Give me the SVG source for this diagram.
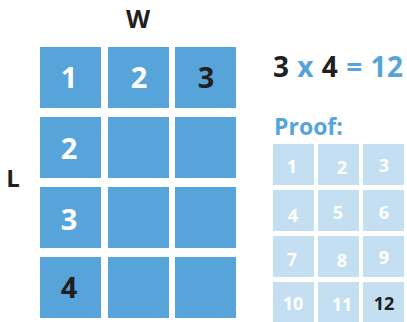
<svg xmlns="http://www.w3.org/2000/svg" width="407" height="322" viewBox="0 0 407 322">
<style>
text{font-family:"Open Sans","Liberation Sans",sans-serif;font-weight:700;}
.sq{fill:#57A4DA;}
.lt{fill:#C3DFF1;}
.big{font-size:29px;text-anchor:middle;}
.sm{font-size:18px;text-anchor:middle;fill:#fff;}
.w{fill:#fff;}
.k{fill:#231F20;}
.b{fill:#57A4DA;}
</style>
<rect width="407" height="322" fill="#fff"/>
<text x="138" y="28" font-size="25" class="k" text-anchor="middle">W</text>
<text x="13" y="187" font-size="24" class="k" text-anchor="middle">L</text>
<g id="grid">
<g id="c11"><rect class="sq" x="40" y="47" width="61" height="61"/><text class="big w" x="69" y="88">1</text></g>
<g id="c12"><rect class="sq" x="108" y="47" width="61" height="61"/><text class="big w" x="139" y="88">2</text></g>
<g id="c13"><rect class="sq" x="175" y="47" width="61" height="61"/><text class="big k" x="206" y="88">3</text></g>
<g id="c21"><rect class="sq" x="40" y="117" width="61" height="61"/><text class="big w" x="69" y="159">2</text></g>
<g id="c22"><rect class="sq" x="108" y="117" width="61" height="61"/></g>
<g id="c23"><rect class="sq" x="175" y="117" width="61" height="61"/></g>
<g id="c31"><rect class="sq" x="40" y="187" width="61" height="61"/><text class="big w" x="69" y="230">3</text></g>
<g id="c32"><rect class="sq" x="108" y="187" width="61" height="61"/></g>
<g id="c33"><rect class="sq" x="175" y="187" width="61" height="61"/></g>
<g id="c41"><rect class="sq" x="40" y="257" width="61" height="61"/><text class="big k" x="69" y="298">4</text></g>
<g id="c42"><rect class="sq" x="108" y="257" width="61" height="61"/></g>
<g id="c43"><rect class="sq" x="175" y="257" width="61" height="61"/></g>
</g>
<text x="273" y="77" font-size="28" textLength="130" lengthAdjust="spacing"><tspan class="k">3</tspan><tspan class="b"> x </tspan><tspan class="k">4</tspan><tspan class="b"> = 12</tspan></text>
<text x="274" y="135" font-size="23" class="b">Proof:</text>
<g id="proof">
<g id="p1"><rect class="lt" x="273" y="144" width="41" height="41"/><text class="sm" x="292" y="173">1</text></g>
<g id="p2"><rect class="lt" x="318" y="144" width="41" height="41"/><text class="sm" x="342" y="174">2</text></g>
<g id="p3"><rect class="lt" x="363" y="144" width="41" height="41"/><text class="sm" x="384" y="172">3</text></g>
<g id="p4"><rect class="lt" x="273" y="190" width="41" height="41"/><text class="sm" x="293" y="222">4</text></g>
<g id="p5"><rect class="lt" x="318" y="190" width="41" height="41"/><text class="sm" x="338" y="219">5</text></g>
<g id="p6"><rect class="lt" x="363" y="190" width="41" height="41"/><text class="sm" x="384" y="219">6</text></g>
<g id="p7"><rect class="lt" x="273" y="236" width="41" height="41"/><text class="sm" x="292" y="266">7</text></g>
<g id="p8"><rect class="lt" x="318" y="236" width="41" height="41"/><text class="sm" x="342" y="267">8</text></g>
<g id="p9"><rect class="lt" x="363" y="236" width="41" height="41"/><text class="sm" x="384" y="264">9</text></g>
<g id="p10"><rect class="lt" x="273" y="282" width="41" height="41"/><text class="sm" x="293" y="310">10</text></g>
<g id="p11"><rect class="lt" x="318" y="282" width="41" height="41"/><text class="sm" x="342" y="311">11</text></g>
<g id="p12"><rect class="lt" x="363" y="282" width="41" height="41"/><text class="sm" x="384" y="310" style="fill:#231F20">12</text></g>
</g>
</svg>
